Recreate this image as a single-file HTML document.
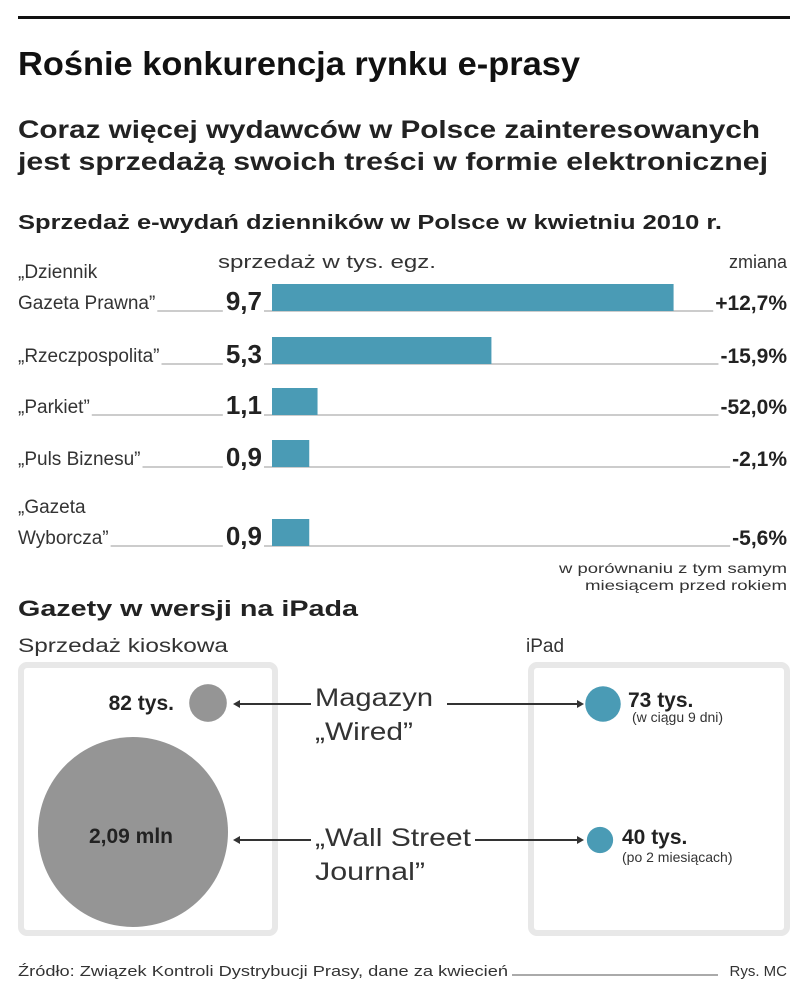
<!DOCTYPE html>
<html><head><meta charset="utf-8"><style>
body{margin:0;background:#fff}
svg{display:block;font-family:"Liberation Sans",sans-serif}
</style></head><body>
<svg id="c" width="805" height="999" viewBox="0 0 805 999">
<rect x="18" y="16" width="772" height="3" fill="#111"/>
<text x="18" y="75" font-size="33" font-weight="bold" fill="#111" textLength="562" lengthAdjust="spacingAndGlyphs">Rośnie konkurencja rynku e-prasy</text>
<text x="18" y="138" font-size="25" font-weight="bold" fill="#222" textLength="742" lengthAdjust="spacingAndGlyphs">Coraz więcej wydawców w Polsce zainteresowanych</text>
<text x="18" y="170" font-size="25" font-weight="bold" fill="#222" textLength="750" lengthAdjust="spacingAndGlyphs">jest sprzedażą swoich treści w formie elektronicznej</text>
<text x="18" y="229" font-size="20" font-weight="bold" fill="#222" textLength="704" lengthAdjust="spacingAndGlyphs">Sprzedaż e-wydań dzienników w Polsce w kwietniu 2010 r.</text>
<text x="218" y="268" font-size="18" fill="#333" textLength="218" lengthAdjust="spacingAndGlyphs">sprzedaż w tys. egz.</text>
<text x="787" y="268" font-size="18" fill="#333" text-anchor="end">zmiana</text>
<g id="bars"></g>
<text x="787" y="573" font-size="14" fill="#333" text-anchor="end" textLength="228" lengthAdjust="spacingAndGlyphs">w porównaniu z tym samym</text>
<text x="787" y="590" font-size="14" fill="#333" text-anchor="end" textLength="202" lengthAdjust="spacingAndGlyphs">miesiącem przed rokiem</text>

<text x="18" y="616" font-size="22" font-weight="bold" fill="#222" textLength="340" lengthAdjust="spacingAndGlyphs">Gazety w wersji na iPada</text>
<text x="18" y="652" font-size="19" fill="#333" textLength="210" lengthAdjust="spacingAndGlyphs">Sprzedaż kioskowa</text>
<text x="526" y="652" font-size="19" fill="#333">iPad</text>
<rect x="21" y="665" width="254" height="268" rx="6" fill="none" stroke="#e8e8e8" stroke-width="6"/>
<rect x="531" y="665" width="256" height="268" rx="6" fill="none" stroke="#e8e8e8" stroke-width="6"/>
<g id="bubbles"></g>
<text x="315" y="706" font-size="25" fill="#333" textLength="118" lengthAdjust="spacingAndGlyphs">Magazyn</text>
<text x="315" y="740" font-size="25" fill="#333" textLength="98" lengthAdjust="spacingAndGlyphs">„Wired”</text>
<text x="315" y="846" font-size="25" fill="#333" textLength="156" lengthAdjust="spacingAndGlyphs">„Wall Street</text>
<text x="315" y="880" font-size="25" fill="#333" textLength="110" lengthAdjust="spacingAndGlyphs">Journal”</text>
<g stroke="#333" stroke-width="2" fill="#333">
<line x1="236" y1="704" x2="311" y2="704"/>
<path d="M233 704 l7 -4 v8z" stroke="none"/>
<line x1="447" y1="704" x2="580" y2="704"/>
<path d="M584 704 l-7 -4 v8z" stroke="none"/>
<line x1="236" y1="840" x2="311" y2="840"/>
<path d="M233 840 l7 -4 v8z" stroke="none"/>
<line x1="475" y1="840" x2="580" y2="840"/>
<path d="M584 840 l-7 -4 v8z" stroke="none"/>
</g>
<text x="18" y="976" font-size="15" fill="#333" textLength="490" lengthAdjust="spacingAndGlyphs">Źródło: Związek Kontroli Dystrybucji Prasy, dane za kwiecień</text>
<line x1="512" y1="975" x2="718" y2="975" stroke="#555" stroke-width="1"/>
<text x="787" y="976" font-size="15" fill="#333" text-anchor="end">Rys. MC</text>
</svg>
<script>
const labels1=["„Dziennik","„Rzeczpospolita”","„Parkiet”","„Puls Biznesu”","„Gazeta"];
const labels2=["Gazeta Prawna”","","","","Wyborcza”"];
const sales=[9.7,5.3,1.1,0.9,0.9];
const salesText=["9,7","5,3","1,1","0,9","0,9"];
const changeText=["+12,7%","-15,9%","-52,0%","-2,1%","-5,6%"];
const rowBottoms=[311,364,415,467,546];
const bubbleNames=["82 tys.","2,09 mln","73 tys.","40 tys."];
const bubbleValues=[82,2090,73,40];

const NS="http://www.w3.org/2000/svg";
function mk(tag,attrs,parent,txt){const e=document.createElementNS(NS,tag);for(const k in attrs)e.setAttribute(k,attrs[k]);if(txt!==undefined)e.textContent=txt;parent.appendChild(e);return e;}
const x0=272, scale=41.4;
const xs=v=>v*scale;
const g=document.getElementById('bars');
sales.forEach((v,i)=>{
  const yb=rowBottoms[i];
  let lab;
  if(labels2[i]){
    const l1=mk('text',{x:18,y:yb-33,'font-size':19,fill:'#333'},g,labels1[i]);
    
    
    lab=mk('text',{x:18,y:yb-2,'font-size':19,fill:'#333'},g,labels2[i]);
  } else lab=mk('text',{x:18,y:yb-2,'font-size':19,fill:'#333'},g,labels1[i]);
  
  
  const lw=lab.getComputedTextLength();
  const val=mk('text',{x:262,y:yb-1,'font-size':26,'font-weight':'bold',fill:'#222','text-anchor':'end'},g,salesText[i]);
  
  
  const vw=val.getComputedTextLength();
  const ch=mk('text',{x:787,y:yb-1,'font-size':21,'font-weight':'bold',fill:'#222','text-anchor':'end'},g,changeText[i]);
  
  
  const cw=ch.getComputedTextLength();
  const ln=mk('line',{x1:18+lw+2,y1:yb,x2:262-vw-3,y2:yb,stroke:'#999','stroke-width':1},g);
  
  
  const ln2=mk('line',{x1:264,y1:yb,x2:787-cw-2,y2:yb,stroke:'#999','stroke-width':1},g);
  
  
  const b=mk('rect',{x:x0,y:yb-27,width:xs(v),height:27,fill:'#4a9bb5'},g);
  
  
});
// bubbles: area proportional to value
const bg=document.getElementById('bubbles');
const rScale=v=>Math.sqrt(v/2090)*95;
const centers=[[208,703,'#959595'],[133,832,'#959595'],[603,704,'#4a9bb5'],[600,840,'#4a9bb5']];
bubbleValues.forEach((v,i)=>{
  const c=mk('circle',{cx:centers[i][0],cy:centers[i][1],r:Math.max(rScale(v),i>=2?rScale(v)*0.9:0),fill:centers[i][2]},bg);
  
  
});
const t1=mk('text',{x:174,y:710,'font-size':21,'font-weight':'bold',fill:'#222','text-anchor':'end'},bg,bubbleNames[0]);


const t2=mk('text',{x:131,y:843,'font-size':21,'font-weight':'bold',fill:'#222','text-anchor':'middle'},bg,bubbleNames[1]);


const t3=mk('text',{x:628,y:707,'font-size':21,'font-weight':'bold',fill:'#222'},bg,bubbleNames[2]);


const t4=mk('text',{x:622,y:844,'font-size':21,'font-weight':'bold',fill:'#222'},bg,bubbleNames[3]);


const s1=mk('text',{x:632,y:722,'font-size':14,fill:'#333'},bg,"(w ciągu 9 dni)");


const s2=mk('text',{x:622,y:862,'font-size':14,fill:'#333'},bg,"(po 2 miesiącach)");


</script>
</body></html>
